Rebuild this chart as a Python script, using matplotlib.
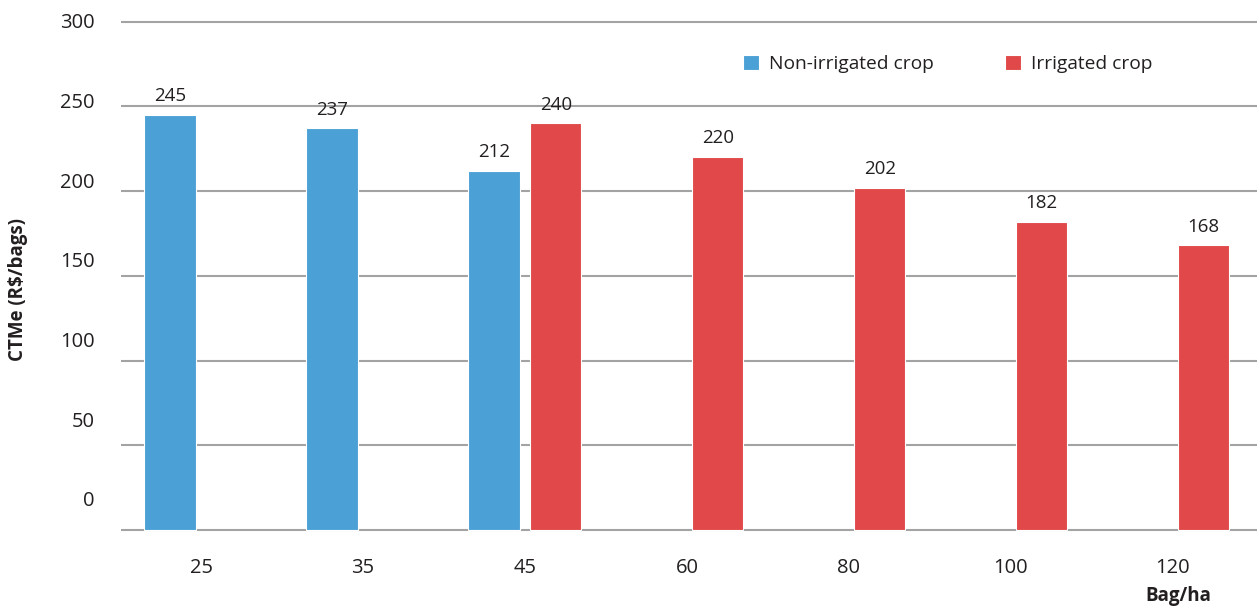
import numpy as np
import matplotlib
matplotlib.use("Agg")
import matplotlib.pyplot as plt

plt.rcParams['font.family'] = ['Open Sans', 'DejaVu Sans']

categories = ['25', '35', '45', '60', '80', '100', '120']
non_irrigated = [245, 237, 212, np.nan, np.nan, np.nan, np.nan]
irrigated = [np.nan, np.nan, 240, 220, 202, 182, 168]
y_ticks = [0, 50, 100, 150, 200, 250, 300]

BLUE = '#4ba0d6'
RED = '#e0484a'
GRID = '#a3a3a3'
TXT = '#231f20'

W, H = 1257, 606
fig = plt.figure(figsize=(W / 100, H / 100), dpi=100)

ymin, ymax = -1, 302
ppu = (530 - 21.7) / 300.0
top_px = 530 - (ymax - 0) * ppu
bot_px = 530 - (ymin) * ppu
ax = fig.add_axes([121 / W, 1 - bot_px / H, 1 - 121 / W, (bot_px - top_px) / H])

x = np.arange(len(categories))
off = 0.19
width = 0.318

ni = np.array(non_irrigated, dtype=float)
ir = np.array(irrigated, dtype=float)
m1 = ~np.isnan(ni)
m2 = ~np.isnan(ir)
b1 = ax.bar(x[m1] - off, ni[m1], width, color=BLUE, edgecolor='white', linewidth=0.8,
            label='Non-irrigated crop', zorder=3)
b2 = ax.bar(x[m2] + off, ir[m2], width, color=RED, edgecolor='white', linewidth=0.8,
            label='Irrigated crop', zorder=3)

for xs, vals in ((x[m1] - off, ni[m1]), (x[m2] + off, ir[m2])):
    for xi, v in zip(xs, vals):
        ax.annotate(f'{int(v)}', (xi, v), xytext=(0, 13.5), textcoords='offset points',
                    ha='center', va='center', fontsize=13.5, color=TXT)

ax.set_xlim(-0.494, 6.52)
ax.set_ylim(ymin, ymax)

# gridlines on minor ticks at the values
ax.set_yticks(y_ticks, minor=True)
ax.grid(which='minor', axis='y', color=GRID, linewidth=1.5, zorder=0)
# labels (drift upward relative to gridlines as in the reference)
label_pos = [18.36 + 0.941 * v for v in y_ticks]
ax.set_yticks(label_pos)
ax.set_yticklabels([str(v) for v in y_ticks], fontsize=14.5, color=TXT)
ax.tick_params(axis='y', which='both', length=0, pad=19)

ax.set_xticks(x)
ax.set_xticklabels(categories, fontsize=14.5, color=TXT)
ax.tick_params(axis='x', length=0, pad=19)

for s in ax.spines.values():
    s.set_visible(False)

ax.legend(handles=[b1, b2], ncol=2, frameon=False, loc='upper left',
          bbox_to_anchor=(743 / W, 1 - 55 / H), bbox_transform=fig.transFigure,
          fontsize=13.8, handlelength=0.85, handleheight=0.85, handletextpad=0.5,
          columnspacing=3.7, borderpad=0, borderaxespad=0, labelcolor=TXT)

fig.text(18 / W, 1 - 289 / H, 'CTMe (R$/bags)', rotation=90, ha='center', va='center',
         fontsize=13.5, fontweight='bold', color=TXT)
fig.text(1178 / W, 1 - 596 / H, 'Bag/ha', ha='center', va='center',
         fontsize=13.5, fontweight='bold', color=TXT)

fig.savefig('out.png', dpi=100, facecolor='white')
